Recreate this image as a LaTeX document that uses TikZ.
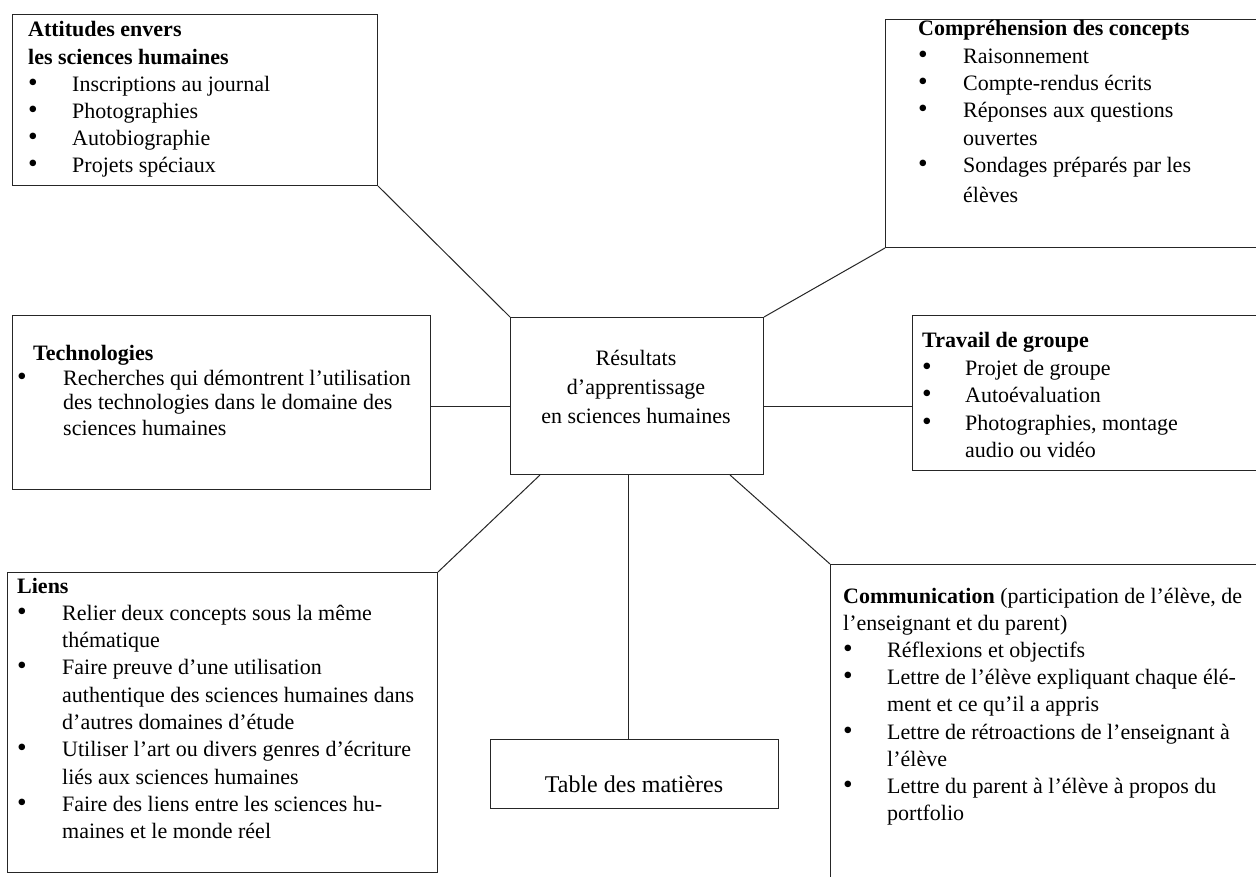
\documentclass[tikz,border=0pt]{standalone}
\usepackage{fontspec}
\setmainfont{Liberation Serif}
\usetikzlibrary{calc}

% hanging bullet items
\newlength\myind
\newcommand\mybullet{\raisebox{0pt}{\scalebox{1.25}{\textbullet}}}
\newcommand\myitem[1]{\makebox[\myind][l]{\mybullet}#1}
\newcommand\mycont[1]{\hspace*{\myind}#1}
\newcommand\txtsize[1]{\fontsize{22}{#1}\selectfont}

\begin{document}
\begin{tikzpicture}[x=1pt,y=-1pt,
  frame/.style={draw=black!85, line width=1pt, inner sep=0pt, anchor=north west},
  link/.style={draw=black!85, line width=1pt},
  body/.style={inner sep=0pt, anchor=base west, text=black},
  mid/.style={inner sep=0pt, anchor=base, text=black},
]
\useasboundingbox (0,0) rectangle (1256,877);
\fill[white] (0,0) rectangle (1256,877);
\clip (0,0) rectangle (1256,877);

% boxes
\node[frame, minimum width=365pt, minimum height=171pt] (att)   at (12,14)   {};
\node[frame, minimum width=380pt, minimum height=228pt] (comp)  at (885,19)  {};
\node[frame, minimum width=418pt, minimum height=174pt] (tech)  at (12,315)  {};
\node[frame, minimum width=253pt, minimum height=157pt] (res)   at (510,317) {};
\node[frame, minimum width=360pt, minimum height=155pt] (trav)  at (912,315) {};
\node[frame, minimum width=430pt, minimum height=300pt] (liens) at (7,572)   {};
\node[frame, minimum width=288pt, minimum height=69pt]  (toc)   at (490,739) {};
\node[frame, minimum width=430pt, minimum height=330pt] (comm)  at (830,564) {};

% box texts
\node[body] (att-t) at (28,37) {\parbox[t]{420pt}{\txtsize{27.2}\setlength\myind{44pt}%
  \textbf{Attitudes envers}\\
  \textbf{les sciences humaines}\\
  \myitem{Inscriptions au journal}\\
  \myitem{Photographies}\\
  \myitem{Autobiographie}\\
  \myitem{Projets spéciaux}}};

\node[body] (comp-t) at (918,36) {\parbox[t]{420pt}{\txtsize{27.3}\setlength\myind{45pt}%
  \textbf{Compréhension des concepts}\\
  \myitem{Raisonnement}\\
  \myitem{Compte-rendus écrits}\\
  \myitem{Réponses aux questions}\\
  \mycont{ouvertes}\\
  \myitem{Sondages préparés par les}\\[3pt]
  \mycont{élèves}}};

\node[body] (tech-t) at (17,360) {\parbox[t]{420pt}{\txtsize{25}\setlength\myind{46pt}%
  \hspace*{16pt}\textbf{Technologies}\\
  \myitem{Recherches qui démontrent l’utilisation}\\
  \mycont{des technologies dans le domaine des}\\
  \mycont{sciences humaines}}};

\node[mid] (res-t) at (636,366) {\parbox[t]{250pt}{\txtsize{29}\centering
  Résultats\\
  d’apprentissage\\
  en sciences humaines}};

\node[body] (trav-t) at (922,348) {\parbox[t]{420pt}{\txtsize{27.5}\setlength\myind{43pt}%
  \textbf{Travail de groupe}\\
  \myitem{Projet de groupe}\\
  \myitem{Autoévaluation}\\
  \myitem{Photographies, montage}\\
  \mycont{audio ou vidéo}}};

\node[body] (liens-t) at (17,593) {\parbox[t]{420pt}{\txtsize{27.3}\setlength\myind{45pt}%
  \textbf{Liens}\\
  \myitem{Relier deux concepts sous la même}\\
  \mycont{thématique}\\
  \myitem{Faire preuve d’une utilisation}\\
  \mycont{authentique des sciences humaines dans}\\
  \mycont{d’autres domaines d’étude}\\
  \myitem{Utiliser l’art ou divers genres d’écriture}\\
  \mycont{liés aux sciences humaines}\\
  \myitem{Faire des liens entre les sciences hu-}\\
  \mycont{maines et le monde réel}}};

\node[mid] (toc-t) at (634,792) {\fontsize{24}{28}\selectfont Table des matières};

\node[body] (comm-t) at (843,603) {\parbox[t]{420pt}{\txtsize{27.2}\setlength\myind{44pt}%
  \textbf{Communication} (participation de l’élève, de\\
  l’enseignant et du parent)\\
  \myitem{Réflexions et objectifs}\\
  \myitem{Lettre de l’élève expliquant chaque élé-}\\
  \mycont{ment et ce qu’il a appris}\\
  \myitem{Lettre de rétroactions de l’enseignant à}\\
  \mycont{l’élève}\\
  \myitem{Lettre du parent à l’élève à propos du}\\
  \mycont{portfolio}}};

% connectors
\coordinate (lev) at (0,406);
\coordinate (tx) at (628,0);
\draw[link] (att.south east) -- (res.north west);
\draw[link] (comp.south west) -- (res.north east);
\draw[link] (tech.east |- lev) -- (res.west |- lev);
\draw[link] (res.east |- lev) -- (trav.west |- lev);
\draw[link] ($(res.south west)+(30,0)$) -- (liens.north east);
\draw[link] (res.south -| tx) -- (toc.north -| tx);
\draw[link] ($(res.south west)+(220,0)$) -- (comm.north west);
\end{tikzpicture}
\end{document}
